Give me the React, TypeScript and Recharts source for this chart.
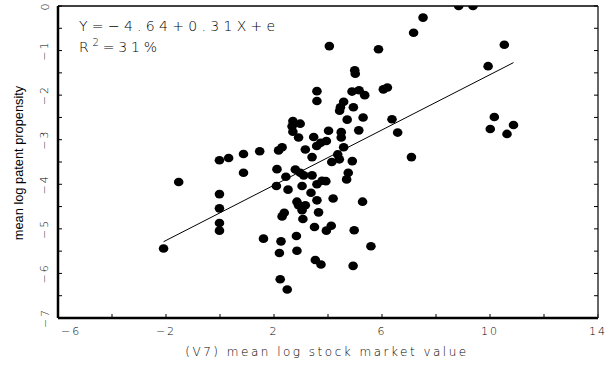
import { ScatterChart, Scatter, XAxis, YAxis, ReferenceLine } from 'recharts';

// (V7) mean log stock market value, one entry per firm group
const stockValue = [
  -2.09, -1.53, -0.02, 0.32, 0.87, 1.47, 2.17, 2.3, 0.87, 2.11, 2.44, 2.09, 2.52,
  -0.02, -0.02, -0.02, -0.02, 2.38, 2.3, 1.61, 2.26, 2.2, 2.23, 2.49,
  4.05, 5.87, 4.99, 5.01, 3.59, 3.59, 4.89, 5.15, 5.36, 6.05, 6.2,
  4.58, 4.46, 4.43, 4.94, 4.71, 5.3, 6.37, 2.7, 2.97, 2.67, 2.7,
  4.02, 4.49, 4.49, 5.14, 3.47, 2.91, 3.94, 3.73, 3.58, 3.16, 3.41,
  4.58, 4.36, 4.42, 4.14, 4.9, 6.58, 8.84, 9.37, 7.52, 7.17,
  10.53, 9.93, 10.16, 10.01, 10.63, 10.87, 7.09, 4.75, 4.69,
  2.79, 2.97, 3.1, 3.41, 3.78, 3.92, 3.59, 3.04, 3.37, 2.85, 2.91,
  3.59, 3.16, 3.04, 4.19, 5.28, 3.65, 3.07, 3.5, 4.12, 3.94, 4.97,
  2.83, 2.85, 5.59, 3.53, 3.74, 4.93,
];

// mean log patent propensity, same order as stockValue
const patentPropensity = [
  -5.44, -3.95, -3.46, -3.41, -3.32, -3.26, -3.24, -3.17, -3.74, -3.66, -3.83, -4.04, -4.12,
  -4.22, -4.54, -4.87, -5.04, -4.64, -4.72, -5.22, -5.28, -5.54, -6.13, -6.36,
  -0.9, -0.97, -1.44, -1.52, -1.91, -2.13, -1.92, -1.89, -2.0, -1.87, -1.83,
  -2.15, -2.27, -2.35, -2.27, -2.55, -2.5, -2.54, -2.58, -2.64, -2.7, -2.82,
  -2.8, -2.83, -2.95, -2.79, -2.94, -2.95, -3.03, -3.07, -3.14, -3.22, -3.39,
  -3.17, -3.33, -3.44, -3.5, -3.48, -2.84, 0, 0, -0.26, -0.6,
  -0.87, -1.35, -2.49, -2.76, -2.87, -2.67, -3.39, -3.74, -3.89,
  -3.67, -3.74, -3.8, -3.8, -3.92, -3.93, -4.0, -4.04, -4.19, -4.39, -4.47,
  -4.36, -4.47, -4.58, -4.32, -4.39, -4.63, -4.78, -4.96, -4.93, -5.04, -5.03,
  -5.16, -5.49, -5.39, -5.7, -5.8, -5.83,
];

const xTicks = [-6, -4, -2, 0, 2, 4, 6, 8, 10, 12, 14];
const xLabelled = [-6, -2, 2, 6, 10, 14];
const yTicks = [-7, -6.5, -6, -5.5, -5, -4.5, -4, -3.5, -3, -2.5, -2, -1.5, -1, -0.5, 0];

// fitted regression Y = a + bX
const INTERCEPT = -4.64;
const SLOPE = 0.31;
const R_SQUARED = 31;

const points = stockValue.map((x, i) => ({ x, y: patentPropensity[i] }));
const xMin = Math.min(...stockValue);
const xMax = Math.max(...stockValue);
const fitLine = [
  { x: xMin, y: INTERCEPT + SLOPE * xMin },
  { x: xMax, y: INTERCEPT + SLOPE * xMax },
];

const FONT = '"DejaVu Sans", sans-serif';

const fmt = (v: number) => (v < 0 ? `\u2212${Math.abs(v)}` : `${v}`);

const BottomTick = ({ x, y, payload }: any) => {
  const v = payload.value;
  if (!xLabelled.includes(v)) return <g />;
  // first label is pushed clear of the y axis
  const first = v === xLabelled[0];
  return (
    <text x={first ? x + 3 : x} y={y + 1} textAnchor={first ? 'start' : 'middle'}
      dominantBaseline="central" fontFamily={FONT} fontWeight={300} fontSize={11}
      letterSpacing={2} fill="#000">
      {fmt(v)}
    </text>
  );
};

const LeftTick = ({ x, y, payload }: any) => {
  if (!Number.isInteger(payload.value)) return <g />;
  return (
    <text x={x} y={y} transform={`rotate(-90 ${x} ${y})`} textAnchor="middle"
      dominantBaseline="central" fontFamily={FONT} fontWeight={300} fontSize={11}
      letterSpacing={2} fill="#000">
      {fmt(payload.value)}
    </text>
  );
};

const NoLabel = () => <g />;

const Dot = (props: any) => (
  <ellipse cx={props.cx} cy={props.cy} rx={4.8} ry={4.3} fill="#000" />
);

export default function App() {
  return (
    <div style={{ position: 'absolute', left: 0, top: 0, width: 611, height: 365, background: '#fff' }}>
      <ScatterChart width={611} height={365} margin={{ top: 0, right: 0, bottom: 0, left: 0 }}>
        <XAxis xAxisId="bottom" type="number" dataKey="x" domain={[-6, 14]} ticks={xTicks}
          interval={0} allowDataOverflow height={47} tickSize={-4} tickMargin={16}
          axisLine={{ stroke: '#000', strokeWidth: 2.5 }} tickLine={{ stroke: '#000' }}
          tick={BottomTick} />
        <XAxis xAxisId="top" orientation="top" type="number" domain={[-6, 14]} ticks={xTicks}
          interval={0} allowDataOverflow height={6} tickSize={-4}
          axisLine={{ stroke: '#000', strokeWidth: 1.5 }} tickLine={{ stroke: '#000' }}
          tick={NoLabel} />
        <YAxis yAxisId="left" type="number" dataKey="y" domain={[-7, 0]} ticks={yTicks}
          interval={0} allowDataOverflow width={58} tickSize={-4} tickMargin={17}
          axisLine={{ stroke: '#000', strokeWidth: 2.5 }} tickLine={{ stroke: '#000' }}
          tick={LeftTick} />
        <YAxis yAxisId="right" orientation="right" type="number" domain={[-7, 0]} ticks={yTicks}
          interval={0} allowDataOverflow width={13} tickSize={-4}
          axisLine={{ stroke: '#333', strokeWidth: 1.5 }} tickLine={{ stroke: '#000' }}
          tick={NoLabel} />
        <Scatter data={points} xAxisId="bottom" yAxisId="left" shape={Dot}
          isAnimationActive={false} />
        <ReferenceLine xAxisId="bottom" yAxisId="left" segment={fitLine}
          stroke="#000" strokeWidth={1} />
      </ScatterChart>
      <svg width={611} height={365} style={{ position: 'absolute', left: 0, top: 0, pointerEvents: 'none' }}>
        <g fontFamily={FONT} fontWeight={300} fill="#000">
          <text x={79} y={26} dominantBaseline="central" fontSize={14} letterSpacing={4.3}>
            {`Y=\u2212${Math.abs(INTERCEPT)}+${SLOPE}X+e`}
          </text>
          <text x={79} y={47} dominantBaseline="central" fontSize={14} letterSpacing={3.8}>
            R<tspan dy={-5} fontSize={10}>2</tspan><tspan dy={5}>{`=${R_SQUARED}%`}</tspan>
          </text>
          <text x={327} y={352} textAnchor="middle" dominantBaseline="central"
            fontSize={12} letterSpacing={2.5}>
            (V7) mean log stock market value
          </text>
        </g>
        <text x={18} y={163} transform="rotate(-90 18 163)" textAnchor="middle"
          dominantBaseline="central" fontFamily='"Liberation Sans", sans-serif'
          fontSize={12.8} fill="#000">
          mean log patent propensity
        </text>
      </svg>
    </div>
  );
}
